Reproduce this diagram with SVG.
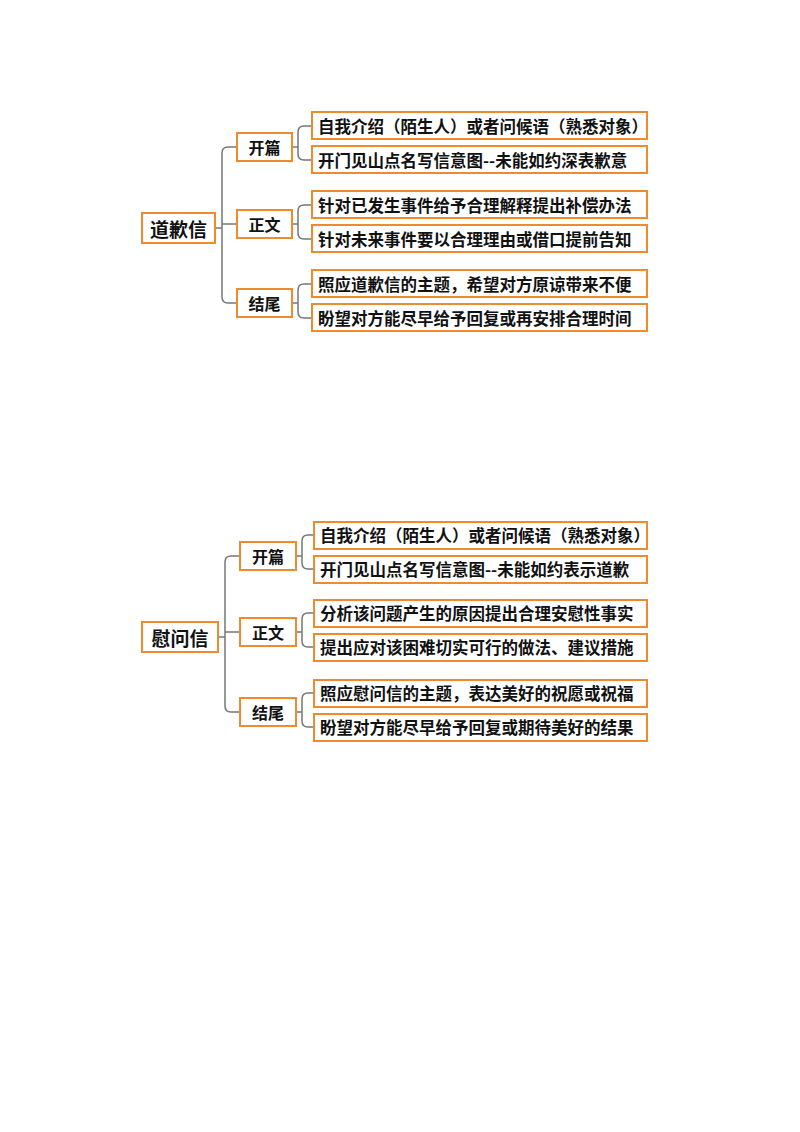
<svg xmlns="http://www.w3.org/2000/svg" width="800" height="1132" viewBox="0 0 800 1132">
<style>
rect{fill:#fff;stroke:#f08a2e;stroke-width:2}
text{font-family:"Noto Sans CJK SC","Liberation Serif",serif;font-weight:bold;fill:#111;dominant-baseline:central}
.r{font-size:19px;text-anchor:middle}
.m{font-size:16px;text-anchor:middle}
.l{font-size:16.5px}
.c path{fill:none;stroke:#777;stroke-width:1.5}
</style>
<rect x="0" y="0" width="800" height="1132" style="fill:#fff;stroke:none"/>
<g class="c">
<path d="M215 228H222M237 147H228Q222 147 222 153V297Q222 303 228 303H237M222 224H237"/>
<path d="M292 147H298M312 126H304Q298 126 298 132V154Q298 160 304 160H312"/>
<path d="M292 224H298M312 205H304Q298 205 298 211V233Q298 239 304 239H312"/>
<path d="M292 303H298M312 284H304Q298 284 298 290V312Q298 318 304 318H312"/>
<path d="M218 637H225M240 556H231Q225 556 225 562V706Q225 712 231 712H240M225 632H240"/>
<path d="M296 556H302M314 535H308Q302 535 302 541V563Q302 569 308 569H314"/>
<path d="M296 632H302M314 613H308Q302 613 302 619V641Q302 647 308 647H314"/>
<path d="M296 712H302M314 693H308Q302 693 302 699V721Q302 727 308 727H314"/>
</g>
<g id="n1"><rect x="142" y="213" width="73" height="30"/><text class="r" x="178.5" y="228">道歉信</text></g>
<g id="n2"><rect x="237" y="133" width="55" height="28"/><text class="m" x="264.5" y="147">开篇</text></g>
<g id="n3"><rect x="237" y="210" width="55" height="28"/><text class="m" x="264.5" y="224">正文</text></g>
<g id="n4"><rect x="237" y="289" width="55" height="28"/><text class="m" x="264.5" y="303">结尾</text></g>
<g id="n5"><rect x="312" y="112" width="335" height="27"/><text class="l" x="318" y="126">自我介绍（陌生人）或者问候语（熟悉对象）</text></g>
<g id="n6"><rect x="312" y="146" width="335" height="27"/><text class="l" x="318" y="160">开门见山点名写信意图--未能如约深表歉意</text></g>
<g id="n7"><rect x="312" y="191" width="335" height="27"/><text class="l" x="318" y="205">针对已发生事件给予合理解释提出补偿办法</text></g>
<g id="n8"><rect x="312" y="225" width="335" height="27"/><text class="l" x="318" y="239">针对未来事件要以合理理由或借口提前告知</text></g>
<g id="n9"><rect x="312" y="270" width="335" height="27"/><text class="l" x="318" y="284">照应道歉信的主题，希望对方原谅带来不便</text></g>
<g id="n10"><rect x="312" y="304" width="335" height="27"/><text class="l" x="318" y="318">盼望对方能尽早给予回复或再安排合理时间</text></g>
<g id="m1"><rect x="142" y="622" width="76" height="30"/><text class="r" x="180" y="637">慰问信</text></g>
<g id="m2"><rect x="240" y="542" width="56" height="28"/><text class="m" x="268" y="556">开篇</text></g>
<g id="m3"><rect x="240" y="618" width="56" height="28"/><text class="m" x="268" y="632">正文</text></g>
<g id="m4"><rect x="240" y="698" width="56" height="28"/><text class="m" x="268" y="712">结尾</text></g>
<g id="m5"><rect x="314" y="522" width="333" height="27"/><text class="l" x="320" y="535">自我介绍（陌生人）或者问候语（熟悉对象）</text></g>
<g id="m6"><rect x="314" y="556" width="333" height="27"/><text class="l" x="320" y="569">开门见山点名写信意图--未能如约表示道歉</text></g>
<g id="m7"><rect x="314" y="600" width="333" height="27"/><text class="l" x="320" y="613">分析该问题产生的原因提出合理安慰性事实</text></g>
<g id="m8"><rect x="314" y="634" width="333" height="27"/><text class="l" x="320" y="647">提出应对该困难切实可行的做法、建议措施</text></g>
<g id="m9"><rect x="314" y="680" width="333" height="27"/><text class="l" x="320" y="693">照应慰问信的主题，表达美好的祝愿或祝福</text></g>
<g id="m10"><rect x="314" y="714" width="333" height="27"/><text class="l" x="320" y="727">盼望对方能尽早给予回复或期待美好的结果</text></g>
</svg>
